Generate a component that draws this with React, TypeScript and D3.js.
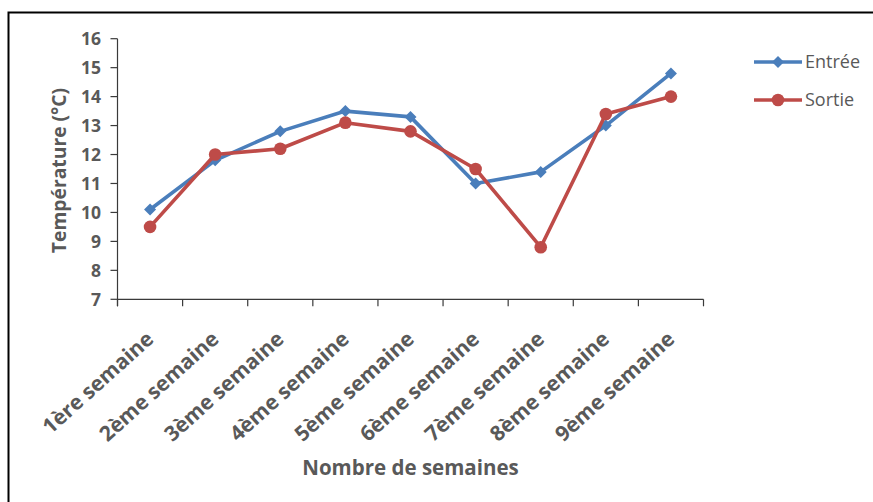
import React from "react";
import * as d3 from "d3";

// weeks on the x axis
const weeks = [
  "1ère semaine",
  "2ème semaine",
  "3ème semaine",
  "4ème semaine",
  "5ème semaine",
  "6ème semaine",
  "7ème semaine",
  "8ème semaine",
  "9ème semaine",
];
// temperatures (°C)
const entree = [10.1, 11.8, 12.8, 13.5, 13.3, 11.0, 11.4, 13.0, 14.8];
const sortie = [9.5, 12.0, 12.2, 13.1, 12.8, 11.5, 8.8, 13.4, 14.0];
const yTicks = [7, 8, 9, 10, 11, 12, 13, 14, 15, 16];

const W = 873;
const H = 502;
const left = 117.5;
const right = 703.5;
const top = 38.7;
const bottom = 299.3;

const blue = "#4A7EBB";
const red = "#BE4B48";
const grey = "#595959";
const axisCol = "#3a3a3a";
const font = "'Open Sans', sans-serif";

export default function App() {
  const x = d3.scaleBand<string>().domain(weeks).range([left, right]).padding(0);
  const y = d3.scaleLinear().domain([7, 16]).range([bottom, top]);
  const cx = (d: string) => (x(d) as number) + x.bandwidth() / 2;

  const line = d3
    .line<number>()
    .x((_, i) => cx(weeks[i]))
    .y((v) => y(v));

  const diamond = (s: number) => `M0,${-s}L${s},0L0,${s}L${-s},0Z`;
  const boundaries = weeks.map((w) => x(w) as number).concat([right]);

  return (
    <svg
      width={W}
      height={H}
      style={{ position: "absolute", left: 0, top: 0, background: "#fff" }}
      fontFamily={font}
    >
      {/* frame */}
      <rect x={8.5} y={12.5} width={W + 20} height={H + 20} fill="none" stroke="#000" strokeWidth={2} />

      {/* y axis */}
      <line x1={left} x2={left} y1={top} y2={bottom + 7} stroke={axisCol} strokeWidth={1.2} />
      {yTicks.map((t) => (
        <g key={t}>
          <line x1={left - 7} x2={left} y1={y(t)} y2={y(t)} stroke={axisCol} strokeWidth={1.2} />
          <text x={101} y={y(t)} dy="0.36em" textAnchor="end" fontSize={17.5} fontWeight="bold" fill={grey}>
            {t}
          </text>
        </g>
      ))}

      {/* x axis */}
      <line x1={left} x2={right} y1={bottom} y2={bottom} stroke={axisCol} strokeWidth={1.2} />
      {boundaries.map((b, i) => (
        <line key={i} x1={b} x2={b} y1={bottom} y2={bottom + 7} stroke={axisCol} strokeWidth={1.2} />
      ))}
      {weeks.map((w) => (
        <text
          key={w}
          transform={`translate(${cx(w) + 5},${341}) rotate(-42)`}
          textAnchor="end"
          fontSize={21}
          fontWeight="bold"
          fill={grey}
        >
          {w}
        </text>
      ))}

      {/* axis titles */}
      <text x={(left + right) / 2} y={475} textAnchor="middle" fontSize={20.5} fontWeight="bold" fill={grey}>
        Nombre de semaines
      </text>
      <text
        transform={`translate(66,170.5) rotate(-90)`}
        textAnchor="middle"
        fontSize={19.3}
        fontWeight="bold"
        fill={grey}
      >
        Température (°C)
      </text>

      {/* series */}
      <path d={line(entree) as string} fill="none" stroke={blue} strokeWidth={3.6} strokeLinejoin="round" />
      {entree.map((v, i) => (
        <path key={i} d={diamond(6)} transform={`translate(${cx(weeks[i])},${y(v)})`} fill={blue} />
      ))}
      <path d={line(sortie) as string} fill="none" stroke={red} strokeWidth={3.6} strokeLinejoin="round" />
      {sortie.map((v, i) => (
        <circle key={i} cx={cx(weeks[i])} cy={y(v)} r={6.3} fill={red} />
      ))}

      {/* legend */}
      <g transform="translate(754,62)">
        <line x1={0} x2={48} y1={0} y2={0} stroke={blue} strokeWidth={3.6} />
        <path d={diamond(6)} transform="translate(24,0)" fill={blue} />
        <text x={51} y={0} dy="0.36em" fontSize={18} fill={grey}>
          Entrée
        </text>
      </g>
      <g transform="translate(754,100)">
        <line x1={0} x2={48} y1={0} y2={0} stroke={red} strokeWidth={3.6} />
        <circle cx={24} cy={0} r={6.3} fill={red} />
        <text x={51} y={0} dy="0.36em" fontSize={18} fill={grey}>
          Sortie
        </text>
      </g>
    </svg>
  );
}
